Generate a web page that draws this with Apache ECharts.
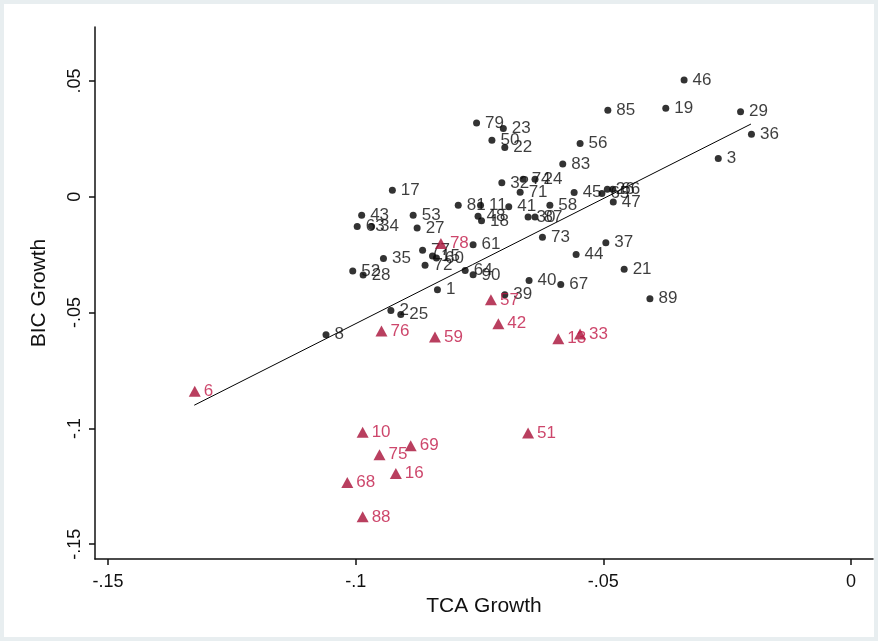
<!DOCTYPE html>
<html>
<head>
<meta charset="utf-8">
<script src="https://cdn.jsdelivr.net/npm/echarts@6/dist/echarts.min.js"></script>
<style>
  html, body { margin: 0; padding: 0; background: #e8eef0; }
  #chart { position: absolute; left: 4px; top: 4px; width: 870px; height: 633px; background: #ffffff; }
</style>
</head>
<body>
<div id="chart"></div>
<script>
// Observations above the fitted line's region: id, TCA growth, BIC growth
const blackIds = [46, 85, 19, 29, 36, 3, 79, 23, 50, 22, 56, 83, 17, 32, 74, 24, 71, 45, 65, 26,
                  66, 47, 43, 63, 34, 53, 27, 81, 11, 48, 18, 41, 58, 30, 87, 73, 61, 37, 44, 21,
                  35, 77, 15, 60, 72, 64, 90, 52, 28, 1, 40, 67, 39, 89, 2, 25, 8];
const blackX = [-0.0337, -0.0491, -0.0374, -0.0223, -0.0201, -0.0268, -0.0756, -0.0702, -0.0725, -0.0699,
                -0.0547, -0.0582, -0.0926, -0.0705, -0.0662, -0.0638, -0.0668, -0.0559, -0.0503, -0.0492,
                -0.0481, -0.0480, -0.0988, -0.0997, -0.0968, -0.0884, -0.0876, -0.0793, -0.0748, -0.0753,
                -0.0746, -0.0691, -0.0608, -0.0652, -0.0638, -0.0623, -0.0763, -0.0495, -0.0555, -0.0458,
                -0.0944, -0.0865, -0.0845, -0.0837, -0.0860, -0.0779, -0.0763, -0.1006, -0.0985, -0.0835,
                -0.0650, -0.0586, -0.0699, -0.0406, -0.0929, -0.0909, -0.1060];
const blackY = [0.0504, 0.0374, 0.0382, 0.0367, 0.0270, 0.0165, 0.0319, 0.0295, 0.0244, 0.0213,
                0.0230, 0.0141, 0.0028, 0.0060, 0.0076, 0.0076, 0.0019, 0.0018, 0.0014, 0.0032,
                0.0032, -0.0023, -0.0080, -0.0128, -0.0128, -0.0080, -0.0135, -0.0037, -0.0037, -0.0084,
                -0.0104, -0.0043, -0.0037, -0.0087, -0.0087, -0.0175, -0.0207, -0.0198, -0.0249, -0.0313,
                -0.0267, -0.0231, -0.0256, -0.0264, -0.0296, -0.0318, -0.0337, -0.0321, -0.0338, -0.0401,
                -0.0361, -0.0379, -0.0423, -0.0440, -0.0491, -0.0508, -0.0596];

// Flagged observations (red triangles)
const redIds = [78, 57, 76, 59, 42, 13, 33, 6, 10, 51, 69, 75, 16, 68, 88];
const redX = [-0.0828, -0.0727, -0.0948, -0.0840, -0.0712, -0.0591, -0.0547, -0.1325,
              -0.0986, -0.0652, -0.0889, -0.0952, -0.0919, -0.1017, -0.0986];
const redY = [-0.0202, -0.0445, -0.0580, -0.0606, -0.0548, -0.0613, -0.0592, -0.0840,
              -0.1017, -0.1020, -0.1075, -0.1114, -0.1195, -0.1234, -0.1382];

// Fitted line endpoints
const fitX = [-0.1326, -0.0202];
const fitY = [-0.0900, 0.0314];

// Axis ticks and their labels
const xTickValues = [-0.15, -0.10, -0.05, 0];
const xTickLabels = ['-.15', '-.1', '-.05', '0'];
const yTickValues = [-0.15, -0.10, -0.05, 0, 0.05];
const yTickLabels = ['-.15', '-.1', '-.05', '0', '.05'];

const FONT = '"Liberation Sans", Arial, sans-serif';

function tickText(values, labels) {
  return function (v) {
    let best = 0;
    for (let i = 1; i < values.length; i++) {
      if (Math.abs(values[i] - v) < Math.abs(values[best] - v)) best = i;
    }
    return labels[best];
  };
}

const blackData = blackIds.map((id, i) => [blackX[i], blackY[i], id]);
const redData = redIds.map((id, i) => [redX[i], redY[i], id]);
const fitData = fitX.map((x, i) => [x, fitY[i]]);

const axisLineStyle = { color: '#111111', width: 1.5 };

const chart = echarts.init(document.getElementById('chart'), null, { renderer: 'canvas' });
chart.setOption({
  animation: false,
  backgroundColor: '#ffffff',
  grid: { left: 91, top: 23, right: 1, bottom: 78, containLabel: false },
  xAxis: {
    type: 'value',
    min: -0.15264,
    max: 0.00444,
    name: 'TCA Growth',
    nameLocation: 'middle',
    nameGap: 34,
    nameTextStyle: { fontFamily: FONT, fontSize: 21, color: '#111111' },
    axisLine: { show: true, onZero: false, lineStyle: axisLineStyle },
    axisTick: { show: true, inside: false, length: 6, customValues: xTickValues, lineStyle: axisLineStyle },
    axisLabel: {
      customValues: xTickValues,
      formatter: tickText(xTickValues, xTickLabels),
      fontFamily: FONT, fontSize: 18, color: '#111111', margin: 14
    },
    splitLine: { show: false }
  },
  yAxis: {
    type: 'value',
    min: -0.1564,
    max: 0.0733,
    name: 'BIC Growth',
    nameLocation: 'middle',
    nameGap: 45,
    nameRotate: 90,
    nameTextStyle: { fontFamily: FONT, fontSize: 21, color: '#111111' },
    axisLine: { show: true, onZero: false, lineStyle: axisLineStyle },
    axisTick: { show: true, inside: false, length: 6, customValues: yTickValues, lineStyle: axisLineStyle },
    axisLabel: {
      customValues: yTickValues,
      formatter: tickText(yTickValues, yTickLabels),
      rotate: 90,
      fontFamily: FONT, fontSize: 18, color: '#111111', margin: 11
    },
    splitLine: { show: false }
  },
  series: [
    {
      type: 'line',
      data: fitData,
      symbol: 'none',
      lineStyle: { color: '#000000', width: 1 },
      z: 1,
      silent: true
    },
    {
      type: 'scatter',
      data: blackData,
      symbol: 'circle',
      symbolSize: 7,
      itemStyle: { color: '#000000' },
      label: {
        show: true,
        position: 'right',
        distance: 5,
        formatter: p => String(p.value[2]),
        fontFamily: FONT,
        fontSize: 17,
        color: '#0d0d0d'
      },
      z: 2
    },
    {
      type: 'scatter',
      data: redData,
      symbol: 'triangle',
      symbolSize: [12, 11],
      itemStyle: { color: '#a80f37' },
      label: {
        show: true,
        position: 'right',
        distance: 3,
        formatter: p => String(p.value[2]),
        fontFamily: FONT,
        fontSize: 17,
        color: '#c01846'
      },
      z: 3
    }
  ]
});
</script>
</body>
</html>
